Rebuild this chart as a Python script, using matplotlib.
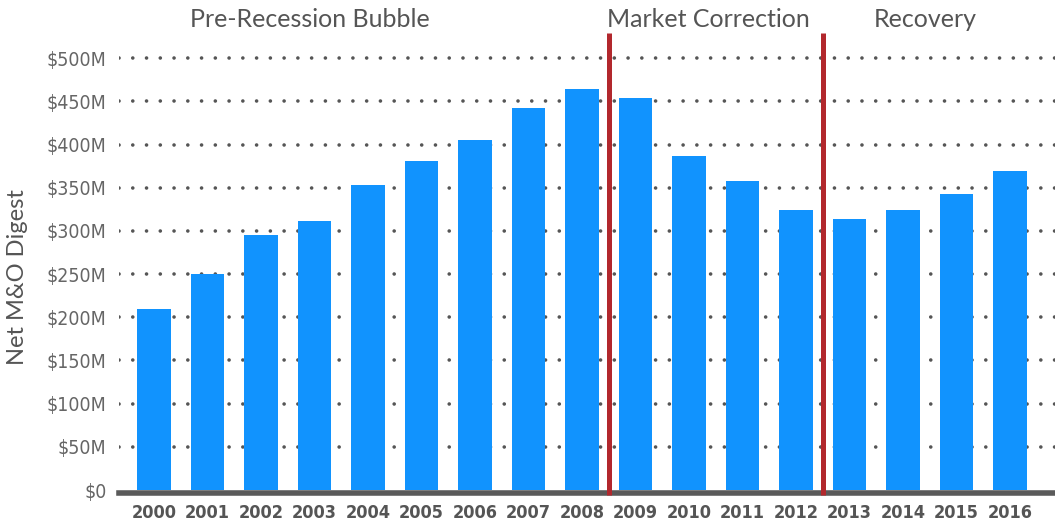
import matplotlib
matplotlib.use("Agg")
import matplotlib.pyplot as plt

years = ["2000", "2001", "2002", "2003", "2004", "2005", "2006", "2007", "2008",
         "2009", "2010", "2011", "2012", "2013", "2014", "2015", "2016"]
net_mo = [210, 250, 295, 311, 353, 381, 405, 442, 464,
          454, 387, 358, 324, 314, 324, 343, 369]
tick_vals = [0, 50, 100, 150, 200, 250, 300, 350, 400, 450, 500]
tick_labels = ["$0", "$50M", "$100M", "$150M", "$200M", "$250M",
               "$300M", "$350M", "$400M", "$450M", "$500M"]
# period separators sit between years (bar index units)
breaks = [8.5, 12.5]
periods = ["Pre-Recession Bubble", "Market Correction", "Recovery"]
period_x = [2.92, 10.36, 14.41]

tick_font = ["DejaVu Sans", "Roboto"]
title_font = ["Lato", "DejaVu Sans"]
grey = "#555555"

fig = plt.figure(figsize=(10.55, 5.27), dpi=100)
ax = fig.add_axes([0.1128, 0.0702, 0.8872, 0.867])

# spine position first: set_position resets the ticks
for s in ["top", "right", "left"]:
    ax.spines[s].set_visible(False)
ax.spines["bottom"].set_position(("outward", 2))
ax.spines["bottom"].set_linewidth(4)
ax.spines["bottom"].set_color("#5a5a5a")
ax.spines["bottom"].set_zorder(4)

x = list(range(len(years)))
ax.bar(x, net_mo, width=0.62, color="#1193fe", zorder=3)

# dotted grid lines
for v in tick_vals[1:]:
    ax.axhline(v, color=grey, linewidth=2.6, linestyle=(0, (0.01, 3.8)),
               dash_capstyle="round", zorder=1)

for b in breaks:
    ax.vlines(b, -6, 529, color="#b2282d", linewidth=3.6, zorder=5, clip_on=False)

ax.set_xlim(-0.654, 16.84)
ax.set_ylim(0, 529)

ax.tick_params(axis="y", length=0, pad=9)
ax.tick_params(axis="x", length=0, pad=8)
ax.set_yticks(tick_vals)
ax.set_yticklabels(tick_labels, family=tick_font, fontstretch="condensed",
                   fontsize=14, color="#666666")
ax.set_xticks(x)
ax.set_xticklabels(years, family=tick_font, fontstretch="condensed",
                   fontsize=13, fontweight="bold", color=grey)

ax.set_ylabel("Net M&O Digest", family=title_font, fontsize=17, color=grey)
ax.yaxis.set_label_coords(-0.097, 0.466)

for label, px in zip(periods, period_x):
    ax.text(px, 1.03, label, transform=ax.get_xaxis_transform(), ha="center",
            va="center", family=title_font, fontsize=18, color=grey, clip_on=False)

fig.savefig("out.png", dpi=100)
